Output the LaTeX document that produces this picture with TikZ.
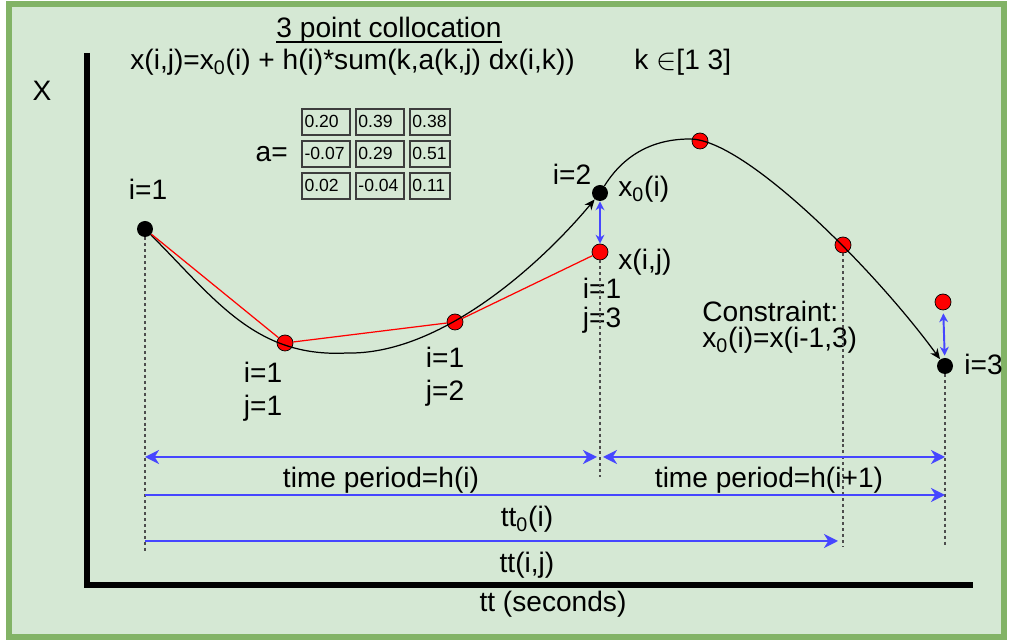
\documentclass[tikz,border=0pt]{standalone}
\usepackage{fontspec}
\setmainfont{Liberation Sans}
\usetikzlibrary{positioning,arrows.meta}
\definecolor{PanelFill}{HTML}{D5E8D4}
\definecolor{PanelEdge}{HTML}{82B366}
\definecolor{SpanBlue}{HTML}{4646FF}
\definecolor{PointRed}{HTML}{FF0000}
\definecolor{CellEdge}{HTML}{3D3D3D}
\definecolor{GuideGray}{HTML}{4D4D4D}

\begin{document}
\begin{tikzpicture}[x=0.02cm, y=-0.02cm, node distance=0.3cm]
  \tikzstyle{panel} = [draw=PanelEdge, fill=PanelFill, line width=3.4pt]
  \tikzstyle{axis} = [draw=black, line width=3.4pt]
  \tikzstyle{txt} = [inner sep=0pt, font=\fontsize{16}{19}\selectfont]
  \tikzstyle{lbl} = [txt, text height=12pt, text depth=3.5pt]
  \tikzstyle{cell} = [rectangle, draw=CellEdge, line width=1.1pt, minimum height=0.52cm, inner xsep=0.05cm, inner ysep=0pt, text width=0.86cm, align=left, font=\fontsize{10}{12}\selectfont]
  \tikzstyle{bdot} = [circle, fill=black, inner sep=0pt, minimum size=0.32cm]
  \tikzstyle{rdot} = [circle, draw=black, line width=0.4pt, fill=PointRed, inner sep=0pt, minimum size=0.32cm]
  \tikzstyle{curve} = [draw=black, line width=0.7pt, >={Stealth[length=6pt,width=5pt]}, ->]
  \tikzstyle{chord} = [draw=PointRed, line width=0.7pt]
  \tikzstyle{guide} = [draw=GuideGray, line width=0.7pt, dash pattern=on 1.7pt off 1.7pt]
  \tikzstyle{span} = [draw=SpanBlue, line width=1.1pt, >={Stealth[length=8pt,width=8pt,inset=2.5pt]}]
  \tikzstyle{gap} = [draw=SpanBlue, line width=1.1pt, >={Stealth[length=5pt,width=5pt,inset=1.5pt]}, <->]

  \useasboundingbox (0,0) rectangle (1009,641);
  \draw[panel] (9,4) rectangle (1004,637);

  % axes
  \coordinate (ytop) at (87,53);
  \coordinate (xend) at (973,585);
  \draw[axis] (ytop) |- (xend);
  \node[lbl, anchor=base] (xlab) at (42,101) {X};
  \node[lbl, anchor=base] (tlab) at (553,612) {tt (seconds)};

  % heading
  \node[txt, anchor=base] (title) at (389,38) {3 point collocation};
  \draw[line width=0.8pt] ([yshift=-2.2pt]title.base west) -- ([yshift=-2.2pt]title.base east);
  \node[txt, anchor=base west] (eqn) at (130,70) {x(i,j)=x\textsubscript{0}(i) + h(i)*sum(k,a(k,j) dx(i,k))};
  \node[txt, anchor=base west] (krange) at (634,70) {k $\in$[1 3]};

  % coefficient table
  \node[cell] (c11) at (326,121.7) {0.20};
  \node[cell, right=0.08cm of c11] (c12) {0.39};
  \node[cell, right=0.08cm of c12, text width=0.7cm] (c13) {0.38};
  \node[cell, below=0.08cm of c11] (c21) {-0.07};
  \node[cell, right=0.08cm of c21] (c22) {0.29};
  \node[cell, right=0.08cm of c22, text width=0.7cm] (c23) {0.51};
  \node[cell, below=0.08cm of c21] (c31) {0.02};
  \node[cell, right=0.08cm of c31] (c32) {-0.04};
  \node[cell, right=0.08cm of c32, text width=0.7cm] (c33) {0.11};
  \node[lbl, left=0.26cm of c21] (alab) {a=};

  % trajectory points
  \node[bdot] (p1) at (145,229) {};
  \node[rdot] (q11) at (285,343) {};
  \node[rdot] (q12) at (455,322) {};
  \node[bdot] (p2) at (600,193) {};
  \node[rdot] (q13) at (600,252) {};
  \node[rdot] (q21) at (700,141) {};
  \node[rdot] (q22) at (843,245) {};
  \node[rdot] (q23) at (943,302) {};
  \node[bdot] (p3) at (945,366) {};
  \coordinate (dip) at (347,353);
  \coordinate (crest) at (690,139);

  \draw[curve] (p1) .. controls (215,299) and (255,358) .. (dip) .. controls (440,355) and (540,265) .. (p2);
  \draw[curve] (p2) .. controls (625,153) and (655,139) .. (crest) .. controls (745,139) and (875,270) .. (p3);
  \draw[chord] (p1) -- (q11) -- (q12) -- (q13);
  \draw[gap] (p2) -- (q13);
  \draw[gap, shorten <=0.06cm, shorten >=0.04cm] (q23) -- (p3);

  % point labels
  \node[lbl, above=0.456cm of p1.center, xshift=0.06cm] (lp1) {i=1};
  \node[lbl, below=0.356cm of q11.center, xshift=-0.44cm] (lq11i) {i=1};
  \node[lbl, below=0.112cm of lq11i] (lq11j) {j=1};
  \node[lbl, below=0.476cm of q12.center, xshift=-0.2cm] (lq12i) {i=1};
  \node[lbl, below=0.112cm of lq12i] (lq12j) {j=2};
  \node[lbl, above=0.036cm of p2.center, xshift=-0.56cm] (lp2) {i=2};
  \node[lbl, right=0.36cm of p2.center, yshift=0.07cm, anchor=west] (lx0) {x\textsubscript{0}(i)};
  \node[lbl, right=0.36cm of q13.center, yshift=-0.21cm, anchor=west] (lxij) {x(i,j)};
  \node[lbl, below=0.496cm of q13.center, xshift=0.04cm] (lq13i) {i=1};
  \node[lbl, below=0.026cm of lq13i] (lq13j) {j=3};
  \node[lbl, right=0.38cm of p3.center, yshift=-0.03cm, anchor=west] (lp3) {i=3};
  \node[lbl, anchor=base west] (cons) at (702,322) {Constraint:};
  \node[lbl, anchor=base west] (consx) at (702,348) {x\textsubscript{0}(i)=x(i-1,3)};

  % time guides
  \coordinate (low1) at (145,553);
  \coordinate (low2) at (600,477);
  \coordinate (low3) at (843,547);
  \coordinate (low4) at (945,545);
  \draw[guide] (p1) -- (low1);
  \draw[guide] (q13) -- (low2);
  \draw[guide] (q22) -- (low3);
  \draw[guide] (p3) -- (low4);

  % time spans
  \coordinate (rowh) at (0,457);
  \coordinate (rowz) at (0,495);
  \coordinate (rowt) at (0,541);
  \draw[span, <->, shorten >=0.06cm] (p1 |- rowh) -- (p2 |- rowh);
  \draw[span, <->, shorten <=0.06cm] (p2 |- rowh) -- (p3 |- rowh);
  \draw[span, ->] (p1 |- rowz) -- (p3 |- rowz);
  \draw[span, ->, shorten >=0.1cm] (p1 |- rowt) -- (q22 |- rowt);
  \node[lbl, anchor=base] (hlab1) at (381,488) {time period=h(i)};
  \node[lbl, anchor=base] (hlab2) at (769,488) {time period=h(i+1)};
  \node[lbl, anchor=base] (zlab) at (527,527) {tt\textsubscript{0}(i)};
  \node[lbl, anchor=base] (ttlab) at (527,573) {tt(i,j)};
\end{tikzpicture}
\end{document}
